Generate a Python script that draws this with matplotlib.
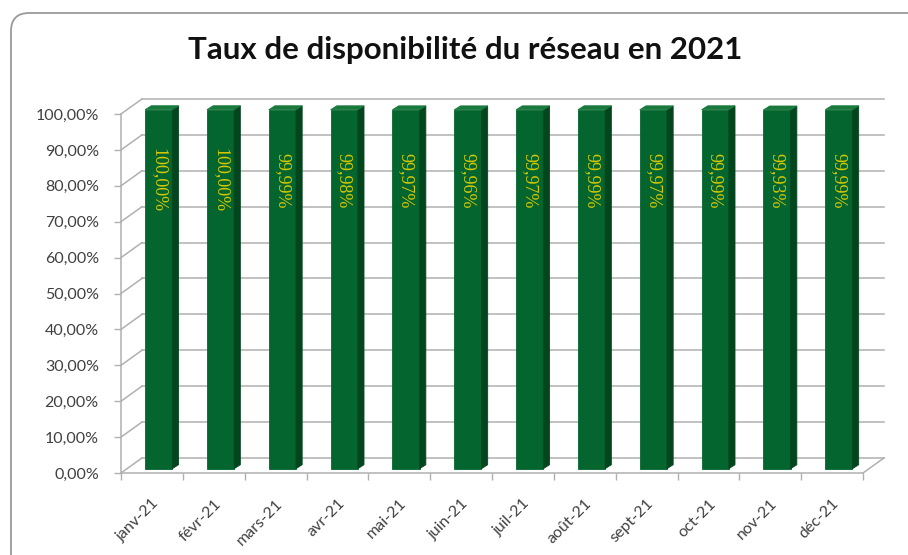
import matplotlib
matplotlib.use("Agg")
import matplotlib.pyplot as plt
from matplotlib.patches import Polygon, FancyBboxPatch

# données
mois = ["janv-21", "févr-21", "mars-21", "avr-21", "mai-21", "juin-21",
        "juil-21", "août-21", "sept-21", "oct-21", "nov-21", "déc-21"]
taux = [1.0, 1.0, 0.9999, 0.9998, 0.9997, 0.9996,
        0.9997, 0.9999, 0.9997, 0.9999, 0.9993, 0.9999]
graduations = [0.0, 0.1, 0.2, 0.3, 0.4, 0.5, 0.6, 0.7, 0.8, 0.9, 1.0]

W, H = 908, 555
fig = plt.figure(figsize=(W / 100, H / 100), dpi=100)
fig.patch.set_facecolor("white")

# cadre arrondi (coupé à droite et en bas, comme la capture)
cadre = FancyBboxPatch((11 / W, -30 / H), (W + 20) / W, (H + 30 - 13) / H,
                       boxstyle="round,pad=0,rounding_size=0.02",
                       transform=fig.transFigure, facecolor="white",
                       edgecolor="#9a9a9a", linewidth=1.3, mutation_aspect=W / H,
                       zorder=-5)
fig.patches.append(cadre)

# l'axe représente le plan avant de la boîte 3D
ax = fig.add_axes([121 / W, (H - 473) / H, (863 - 121) / W, (473 - 114) / H])
ax.set_xlim(0, len(mois))
ax.set_ylim(0, 1)
ax.patch.set_visible(False)
for s in ax.spines.values():
    s.set_visible(False)

# profondeur du mur arrière
dx, dy = 0.34, 0.042
gris = "#b0b0b0"
n = len(mois)

for t in graduations:
    ax.plot([0, dx], [t, t + dy], color=gris, lw=1.1, clip_on=False, zorder=1)
    ax.plot([dx, n + dx], [t + dy, t + dy], color=gris, lw=1.1, clip_on=False, zorder=1)
# sol
ax.plot([0, n], [0, 0], color=gris, lw=1.1, clip_on=False, zorder=1)
ax.plot([n, n + dx], [0, dy], color=gris, lw=1.1, clip_on=False, zorder=1)
# axe vertical avant
ax.plot([0, 0], [0, 1], color=gris, lw=1.1, clip_on=False, zorder=1)

# barres 3D
ox, oy = 0.39, 0.012
bw = 0.44
px, py = 0.1, 0.011
for i, v in enumerate(taux):
    x0 = i + ox
    y0 = oy
    y1 = v + oy
    faces = [
        ([(x0, y0), (x0 + bw, y0), (x0 + bw, y1), (x0, y1)], "#05652f"),
        ([(x0 + bw, y0), (x0 + bw + px, y0 + py), (x0 + bw + px, y1 + py),
          (x0 + bw, y1)], "#03461e"),
        ([(x0, y1), (x0 + px, y1 + py), (x0 + bw + px, y1 + py), (x0 + bw, y1)],
         "#1a7a3e"),
    ]
    for pts, c in faces:
        ax.add_patch(Polygon(pts, closed=True, facecolor=c, edgecolor=c, lw=0.6,
                             clip_on=False, zorder=3))
    etiquette = f"{v * 100:.2f}%".replace(".", ",")
    ax.text(x0 + bw / 2, 0.815, etiquette, rotation=-90, ha="center", va="center",
            color="#d6c900", fontsize=13, family="Liberation Serif", zorder=4)

# graduations Y
ax.set_yticks(graduations)
ax.set_yticklabels([f"{t * 100:.2f}%".replace(".", ",") for t in graduations],
                   family="Lato", fontsize=11.5, color="#404040")
ax.tick_params(axis="y", length=5, width=1, color=gris, pad=11)

# graduations X
ax.set_xticks([i + 0.5 for i in range(n)])
ax.set_xticklabels(mois, rotation=45, ha="right", rotation_mode="anchor",
                   family="Lato", fontsize=11.5, color="#404040")
ax.set_xticks(range(n + 1), minor=True)
ax.tick_params(axis="x", which="major", length=0, pad=17)
ax.tick_params(axis="x", which="minor", length=5, width=1, color=gris)

fig.text(465 / W, (H - 50) / H, "Taux de disponibilité du réseau en 2021",
         ha="center", va="center", fontsize=22.5, fontweight="bold",
         family="Lato", color="#111111")

fig.savefig("out.png", dpi=100, facecolor="white")
